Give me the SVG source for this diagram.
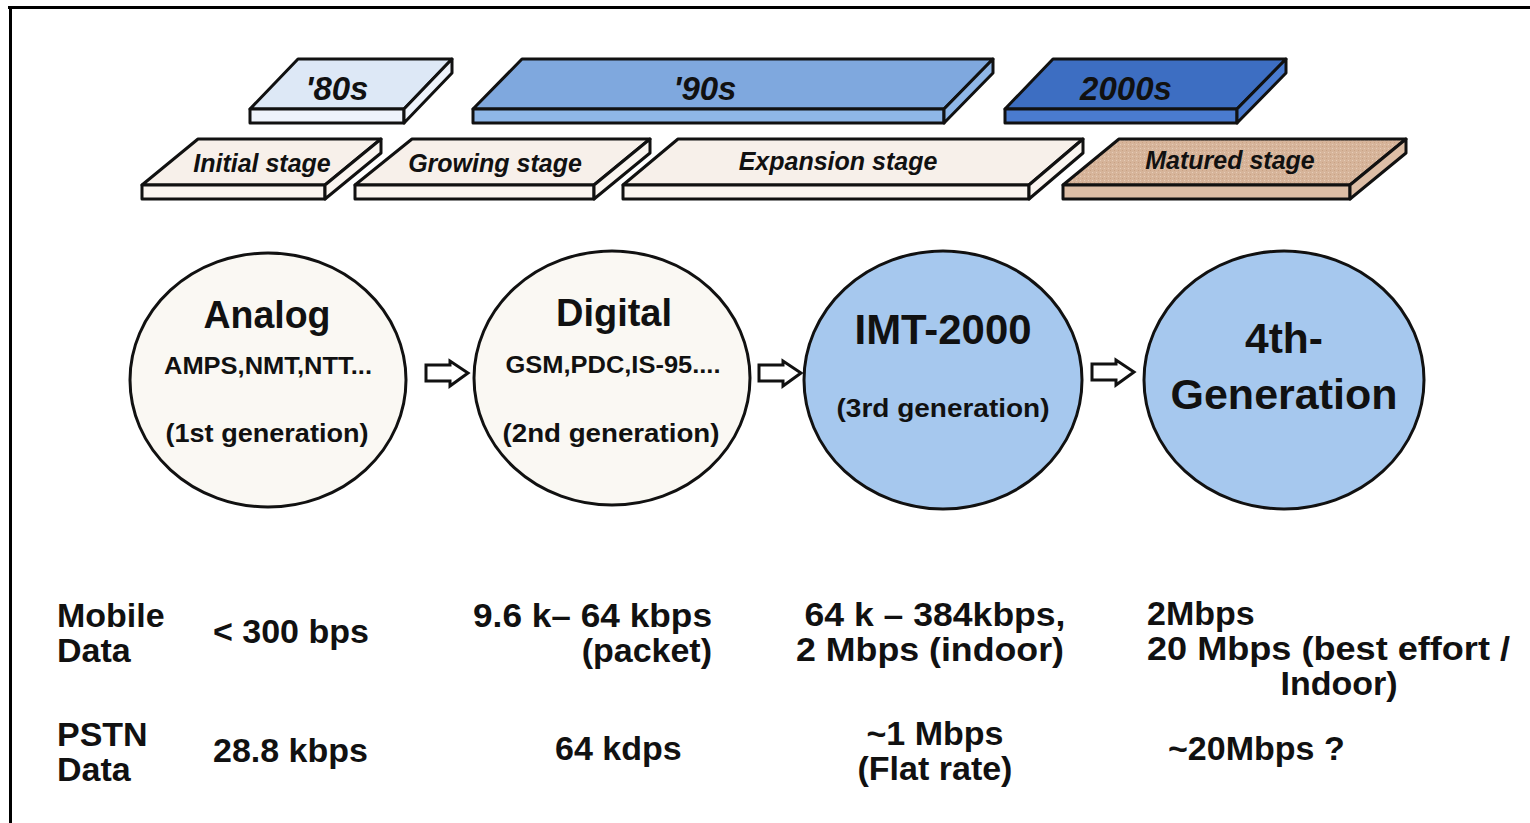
<svg xmlns="http://www.w3.org/2000/svg" width="1530" height="823" viewBox="0 0 1530 823">
  <style>
    .edge { stroke: #111; stroke-width: 3; stroke-linejoin: round; }
    .era-lbl { font-family: "Liberation Sans", Arial, sans-serif; font-weight: bold; font-style: italic; font-size: 33px; fill: #111; text-anchor: middle; }
    .stage-lbl { font-family: "Liberation Sans", Arial, sans-serif; font-weight: bold; font-style: italic; font-size: 25px; fill: #111; text-anchor: middle; }
    .gen { stroke: #111; stroke-width: 3; }
    .gen-title { font-family: "Liberation Sans", Arial, sans-serif; font-weight: bold; font-size: 38px; fill: #111; text-anchor: middle; }
    .gen-big { font-family: "Liberation Sans", Arial, sans-serif; font-weight: bold; font-size: 42px; fill: #111; text-anchor: middle; }
    .gen-sub { font-family: "Liberation Sans", Arial, sans-serif; font-weight: bold; font-size: 24px; fill: #111; text-anchor: middle; }
    .gen-note { font-family: "Liberation Sans", Arial, sans-serif; font-weight: bold; font-size: 25px; fill: #111; text-anchor: middle; }
    .row { font-family: "Liberation Sans", Arial, sans-serif; font-weight: bold; font-size: 34px; fill: #111; }
    .arrow { fill: #fff; stroke: #111; stroke-width: 3; stroke-linejoin: miter; }
  </style>
  <defs>
    <!-- fine weave texture for the matured-stage slab -->
    <pattern id="weave" width="4" height="4" patternUnits="userSpaceOnUse">
      <rect width="4" height="4" fill="#d6b49a"/>
      <rect width="1" height="1" fill="#e6cdb8"/>
      <rect x="2" y="2" width="1" height="1" fill="#c9a284"/>
    </pattern>
  </defs>

  <!-- frame -->
  <g id="frame" stroke="#000" stroke-width="3" fill="none">
    <line x1="8" y1="7.5" x2="1530" y2="7.5"/>
    <line x1="10.5" y1="6" x2="10.5" y2="823"/>
  </g>

  <!-- decade slabs: top face, front face, side face -->
  <g id="era-80s">
    <path class="edge" fill="#dde8f6" d="M298,59 L452,59 L404,109 L250,109 Z"/>
    <path class="edge" fill="#eef3fb" d="M250,109 L404,109 L404,123 L250,123 Z"/>
    <path class="edge" fill="#eef3fb" d="M452,59 L452,73 L404,123 L404,109 Z"/>
    <text class="era-lbl" x="337" y="100">'80s</text>
  </g>
  <g id="era-90s">
    <path class="edge" fill="#7fa8de" d="M522,59 L993,59 L944,109 L473,109 Z"/>
    <path class="edge" fill="#8fb7e8" d="M473,109 L944,109 L944,123 L473,123 Z"/>
    <path class="edge" fill="#8fb7e8" d="M993,59 L993,73 L944,123 L944,109 Z"/>
    <text class="era-lbl" x="705" y="100">'90s</text>
  </g>
  <g id="era-2000s">
    <path class="edge" fill="#3d6ec2" d="M1053,59 L1286,59 L1237,109 L1005,109 Z"/>
    <path class="edge" fill="#4a7bcf" d="M1005,109 L1237,109 L1237,123 L1005,123 Z"/>
    <path class="edge" fill="#4a7bcf" d="M1286,59 L1286,73 L1237,123 L1237,109 Z"/>
    <text class="era-lbl" x="1126" y="100">2000s</text>
  </g>

  <!-- market stage slabs -->
  <g id="stage-initial">
    <path class="edge" fill="#f7f0ea" d="M198,139 L381,139 L325,185 L142,185 Z"/>
    <path class="edge" fill="#faf5f0" d="M142,185 L325,185 L325,199 L142,199 Z"/>
    <path class="edge" fill="#faf5f0" d="M381,139 L381,153 L325,199 L325,185 Z"/>
    <text class="stage-lbl" x="262" y="172">Initial stage</text>
  </g>
  <g id="stage-growing">
    <path class="edge" fill="#f7f0ea" d="M412,139 L650,139 L594,185 L355,185 Z"/>
    <path class="edge" fill="#faf5f0" d="M355,185 L594,185 L594,199 L355,199 Z"/>
    <path class="edge" fill="#faf5f0" d="M650,139 L650,153 L594,199 L594,185 Z"/>
    <text class="stage-lbl" x="495" y="172">Growing stage</text>
  </g>
  <g id="stage-expansion">
    <path class="edge" fill="#f7f0ea" d="M678,139 L1083,139 L1029,185 L623,185 Z"/>
    <path class="edge" fill="#faf5f0" d="M623,185 L1029,185 L1029,199 L623,199 Z"/>
    <path class="edge" fill="#faf5f0" d="M1083,139 L1083,153 L1029,199 L1029,185 Z"/>
    <text class="stage-lbl" x="838" y="170">Expansion stage</text>
  </g>
  <g id="stage-matured">
    <path class="edge" fill="url(#weave)" d="M1119,139 L1406,139 L1350,185 L1063,185 Z"/>
    <path class="edge" fill="#ddbea6" d="M1063,185 L1350,185 L1350,199 L1063,199 Z"/>
    <path class="edge" fill="#ddbea6" d="M1406,139 L1406,153 L1350,199 L1350,185 Z"/>
    <text class="stage-lbl" x="1230" y="169">Matured stage</text>
  </g>

  <!-- generation nodes -->
  <g id="gen-analog">
    <ellipse class="gen" cx="268" cy="380" rx="138" ry="127" fill="#faf8f3"/>
    <text class="gen-title" x="267" y="328" textLength="127" lengthAdjust="spacingAndGlyphs">Analog</text>
    <text class="gen-sub" x="268" y="374" textLength="208" lengthAdjust="spacingAndGlyphs">AMPS,NMT,NTT...</text>
    <text class="gen-note" x="267" y="442" textLength="203" lengthAdjust="spacingAndGlyphs">(1st generation)</text>
  </g>
  <g id="gen-digital">
    <ellipse class="gen" cx="612" cy="378" rx="138" ry="127" fill="#faf8f3"/>
    <text class="gen-title" x="614" y="326" textLength="116" lengthAdjust="spacingAndGlyphs">Digital</text>
    <text class="gen-sub" x="613" y="373" textLength="215" lengthAdjust="spacingAndGlyphs">GSM,PDC,IS-95....</text>
    <text class="gen-note" x="611" y="442" textLength="217" lengthAdjust="spacingAndGlyphs">(2nd generation)</text>
  </g>
  <g id="gen-imt2000">
    <ellipse class="gen" cx="943" cy="380" rx="139" ry="129" fill="#a6c8ee"/>
    <text class="gen-big" x="943" y="344" textLength="177" lengthAdjust="spacingAndGlyphs">IMT-2000</text>
    <text class="gen-note" x="943" y="417" textLength="213" lengthAdjust="spacingAndGlyphs">(3rd generation)</text>
  </g>
  <g id="gen-4th">
    <ellipse class="gen" cx="1284" cy="380" rx="140" ry="129" fill="#a6c8ee"/>
    <text class="gen-big" x="1284" y="353" textLength="78" lengthAdjust="spacingAndGlyphs">4th-</text>
    <text class="gen-big" x="1284" y="409" textLength="227" lengthAdjust="spacingAndGlyphs">Generation</text>
  </g>

  <!-- block arrows between generations -->
  <g id="connectors">
    <path class="arrow" d="M426,365 L450,365 L450,361 L468,373 L450,386 L450,381 L426,381 Z"/>
    <path class="arrow" d="M759,365 L783,365 L783,361 L801,373 L783,386 L783,381 L759,381 Z"/>
    <path class="arrow" d="M1092,364 L1116,364 L1116,360 L1134,372 L1116,385 L1116,380 L1092,380 Z"/>
  </g>

  <!-- data-rate table -->
  <g id="rates">
    <text class="row" x="57" y="627">Mobile</text>
    <text class="row" x="57" y="662">Data</text>
    <text class="row" x="213" y="643">&lt; 300 bps</text>
    <text class="row" x="712" y="627" text-anchor="end" textLength="239" lengthAdjust="spacingAndGlyphs">9.6 k– 64 kbps</text>
    <text class="row" x="712" y="662" text-anchor="end">(packet)</text>
    <text class="row" x="935" y="626" text-anchor="middle" textLength="261" lengthAdjust="spacingAndGlyphs">64 k – 384kbps,</text>
    <text class="row" x="930" y="661" text-anchor="middle" textLength="268" lengthAdjust="spacingAndGlyphs">2 Mbps (indoor)</text>
    <text class="row" x="1147" y="625">2Mbps</text>
    <text class="row" x="1147" y="660" textLength="363" lengthAdjust="spacingAndGlyphs">20 Mbps (best effort /</text>
    <text class="row" x="1339" y="695" text-anchor="middle">Indoor)</text>

    <text class="row" x="57" y="746">PSTN</text>
    <text class="row" x="57" y="781">Data</text>
    <text class="row" x="213" y="762">28.8 kbps</text>
    <text class="row" x="555" y="760">64 kdps</text>
    <text class="row" x="935" y="745" text-anchor="middle">~1 Mbps</text>
    <text class="row" x="935" y="780" text-anchor="middle">(Flat rate)</text>
    <text class="row" x="1168" y="760">~20Mbps ?</text>
  </g>
</svg>
